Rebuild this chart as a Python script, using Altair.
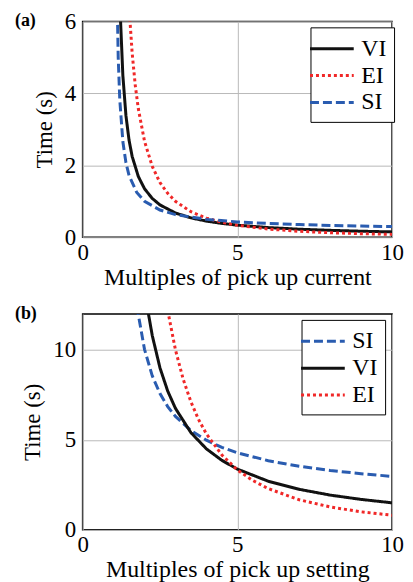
import altair as alt
import pandas as pd

# Panel (a): multiples of pick up current
a_vi_x = [1.22, 1.3, 1.4, 1.5, 1.6, 1.8, 2.0, 2.25, 2.5, 3.0, 3.5, 4.0, 4.5, 5.0, 6.0, 7.0, 8.0, 9.0, 10.0]
a_vi_y = [6.14, 4.5, 3.38, 2.7, 2.25, 1.69, 1.35, 1.08, 0.9, 0.675, 0.54, 0.45, 0.386, 0.338, 0.27, 0.225, 0.193, 0.169, 0.15]
a_ei_x = [1.5, 1.6, 1.7, 1.8, 2.0, 2.25, 2.5, 2.75, 3.0, 3.5, 4.0, 4.5, 5.0, 6.0, 7.0, 8.0, 9.0, 10.0]
a_ei_y = [6.4, 5.13, 4.23, 3.57, 2.67, 1.97, 1.52, 1.22, 1.0, 0.71, 0.533, 0.416, 0.333, 0.229, 0.167, 0.127, 0.1, 0.081]
a_si_x = [1.1, 1.15, 1.2, 1.3, 1.4, 1.5, 1.75, 2.0, 2.5, 3.0, 4.0, 5.0, 6.0, 7.0, 8.0, 9.0, 10.0]
a_si_y = [7.34, 5.0, 3.83, 2.66, 2.07, 1.72, 1.244, 1.003, 0.757, 0.63, 0.498, 0.428, 0.384, 0.353, 0.33, 0.312, 0.297]

# Panel (b): multiples of pick up setting
b_si_x = [1.75, 2.0, 2.25, 2.5, 2.75, 3.0, 3.5, 4.0, 4.5, 5.0, 6.0, 7.0, 8.0, 9.0, 10.0]
b_si_y = [12.44, 10.03, 8.56, 7.57, 6.85, 6.3, 5.52, 4.98, 4.58, 4.28, 3.84, 3.53, 3.3, 3.12, 2.97]
b_vi_x = [2.1, 2.25, 2.5, 2.75, 3.0, 3.5, 4.0, 4.5, 5.0, 6.0, 7.0, 8.0, 9.0, 10.0]
b_vi_y = [12.27, 10.8, 9.0, 7.71, 6.75, 5.4, 4.5, 3.86, 3.375, 2.7, 2.25, 1.93, 1.69, 1.5]
b_ei_x = [2.75, 3.0, 3.25, 3.5, 3.75, 4.0, 4.5, 5.0, 5.5, 6.0, 7.0, 8.0, 9.0, 10.0]
b_ei_y = [12.19, 10.0, 8.37, 7.11, 6.12, 5.33, 4.16, 3.33, 2.74, 2.29, 1.67, 1.27, 1.0, 0.81]

colors = {"VI": "#111111", "EI": "#f02828", "SI": "#2a5cb0"}
dashes = {"VI": [1, 0], "EI": [3, 3], "SI": [9, 4]}

FONT = "Times New Roman"


def frame(series):
    rows = []
    for name, xs, ys in series:
        for x, y in zip(xs, ys):
            rows.append({"m": x, "t": y, "curve": name})
    return pd.DataFrame(rows)


def panel(series, order, ymax, yticks, xtitle, label, lx, ly):
    df = frame(series)
    leg = alt.Legend(
        title=None, orient="none", legendX=lx, legendY=ly,
        strokeColor="black", fillColor="white", padding=7,
        symbolType="M-1.69,0H1.69", symbolSize=676, symbolStrokeWidth=3,
        symbolOffset=0,
        labelFont=FONT, labelFontSize=24, labelColor="black",
        rowPadding=0, labelOffset=15, symbolLimit=0,
    )
    lines = alt.Chart(df).mark_line(strokeWidth=3, clip=True).encode(
        x=alt.X("m:Q", scale=alt.Scale(domain=[0, 10], nice=False),
                axis=alt.Axis(values=[0, 5, 10], title=xtitle)),
        y=alt.Y("t:Q", scale=alt.Scale(domain=[0, ymax], nice=False),
                axis=alt.Axis(values=yticks, title="Time (s)")),
        color=alt.Color("curve:N", sort=order,
                        scale=alt.Scale(domain=order, range=[colors[k] for k in order]),
                        legend=leg),
        strokeDash=alt.StrokeDash("curve:N", sort=order,
                                  scale=alt.Scale(domain=order, range=[dashes[k] for k in order]),
                                  legend=leg),
        order=alt.Order("m:Q"),
    )
    tag = alt.Chart(pd.DataFrame({"lab": [label]})).mark_text(
        font=FONT, fontSize=18, fontWeight="bold", align="left", baseline="top"
    ).encode(text="lab:N", x=alt.value(-68), y=alt.value(-9))
    return alt.layer(lines, tag).resolve_scale(color="independent", strokeDash="independent").properties(
        width=311, height=217
    )


pa = panel([("VI", a_vi_x, a_vi_y), ("EI", a_ei_x, a_ei_y), ("SI", a_si_x, a_si_y)],
           ["VI", "EI", "SI"], 6, [0, 2, 4, 6], "Multiples of pick up current", "(a)", 229, 6)
pb = panel([("SI", b_si_x, b_si_y), ("VI", b_vi_x, b_vi_y), ("EI", b_ei_x, b_ei_y)],
           ["SI", "VI", "EI"], 12, [0, 5, 10], "Multiples of pick up setting", "(b)", 220, 6)

chart = alt.vconcat(pa, pb, spacing=14).resolve_scale(
    color="independent", strokeDash="independent"
).resolve_legend(color="independent", strokeDash="independent").properties(
    padding={"left": 6, "top": 0, "right": 0, "bottom": 0}
).configure_view(
    stroke="black", strokeWidth=1.5
).configure_axis(
    labelFont=FONT, titleFont=FONT, labelFontSize=23, titleFontSize=24,
    labelColor="black", titleColor="black", titleFontWeight="normal",
    grid=True, gridColor="#b8b8b8", gridWidth=1, labelFlush=False,
    domain=False, ticks=False, labelPadding=4, titlePadding=1,
).configure_axisY(
    titlePadding=8, labelPadding=7, titleFontSize=23
)

chart.save("out.html", embed_options={"renderer": "svg", "actions": False})
